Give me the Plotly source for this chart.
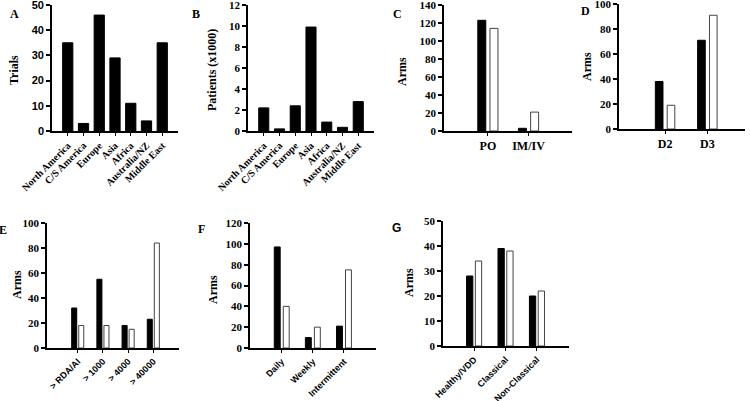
import plotly.graph_objects as go

W, H = 750, 401

# ---------------- data ----------------
regions = ["North America", "C/S America", "Europe", "Asia", "Africa", "Australia/NZ", "Middle East"]
trials = [35, 3, 46, 29, 11, 4, 35]
patients_k = [2.2, 0.2, 2.4, 9.9, 0.85, 0.35, 2.8]

route_cats = ["PO", "IM/IV"]
route_black = [123, 3]
route_white = [114, 21]

form_cats = ["D2", "D3"]
form_black = [38, 71]
form_white = [19, 91]

dose_cats = ["> RDA/AI", "> 1000", "> 4000", "> 40000"]
dose_black = [32, 55, 18, 23]
dose_white = [18, 18, 15, 84]

freq_cats = ["Daily", "Weekly", "Intermittent"]
freq_black = [97, 10, 21]
freq_white = [40, 20, 75]

pop_cats = ["Healthy/VDD", "Classical", "Non-Classical"]
pop_black = [28, 39, 20]
pop_white = [34, 38, 22]

SERIF = "Liberation Serif"
SANS = "Liberation Sans"


def px_x(x):
    return x / W


def px_y(y):
    return 1 - y / H


panels = [
    dict(letter="A", cats=regions, series=[trials], xd=(52, 178), yd=(5, 131), yr=(0, 50), dt=10,
         xr=(-1, 7), ang=-45, xf=SERIF, xs=10, yf=SANS, w=0.65, d=0, lp=(14, 14), lf=SERIF,
         title="Trials", tp=(14, 70)),
    dict(letter="B", cats=regions, series=[patients_k], xd=(248, 374), yd=(5, 131), yr=(0, 12), dt=2,
         xr=(-1, 7), ang=-45, xf=SERIF, xs=10, yf=SERIF, w=0.64, d=0, lp=(196, 14), lf=SERIF,
         title="Patients (x1000)", tp=(212, 70)),
    dict(letter="C", cats=route_cats, series=[route_black, route_white], xd=(444, 572), yd=(5, 131),
         yr=(0, 140), dt=20, xr=(-1.08, 2.07), ang=0, xf=SERIF, xs=12, yf=SERIF, w=0.197, d=0.30,
         lp=(397, 14), lf=SERIF, title="Arms", tp=(402, 72)),
    dict(letter="D", cats=form_cats, series=[form_black, form_white], xd=(619, 745), yd=(4, 129),
         yr=(0, 100), dt=20, xr=(-1.09, 1.89), ang=0, xf=SERIF, xs=12, yf=SERIF, w=0.18, d=0.28,
         lp=(585, 11), lf=SERIF, title="Arms", tp=(587, 67)),
    dict(letter="E", cats=dose_cats, series=[dose_black, dose_white], xd=(47, 179), yd=(223, 348),
         yr=(0, 100), dt=20, xr=(-1.22, 4.02), ang=-45, xf=SANS, xs=9, yf=SERIF, w=0.2, d=0.28,
         lp=(3, 230), lf=SERIF, title="Arms", tp=(17, 285)),
    dict(letter="F", cats=freq_cats, series=[freq_black, freq_white], xd=(250, 376), yd=(223, 348),
         yr=(0, 120), dt=20, xr=(-1.02, 3.03), ang=-45, xf=SANS, xs=9, yf=SERIF, w=0.19, d=0.29,
         lp=(202, 229), lf=SERIF, title="Arms", tp=(213, 289)),
    dict(letter="G", cats=pop_cats, series=[pop_black, pop_white], xd=(443, 569), yd=(221, 346),
         yr=(0, 50), dt=10, xr=(-0.99, 3.02), ang=-45, xf=SANS, xs=9, yf=SERIF, w=0.2, d=0.28,
         lp=(396, 228), lf=SANS, title="Arms", tp=(409, 283)),
]

fig = go.Figure()
layout = dict(
    width=W, height=H, margin=dict(l=0, r=0, t=0, b=0, autoexpand=False),
    paper_bgcolor="white", plot_bgcolor="white", showlegend=False,
    barmode="overlay",
)
annotations = []

for i, p in enumerate(panels):
    n = "" if i == 0 else str(i + 1)
    xa, ya = "x" + n, "y" + n
    fills = ["black", "white"]
    lines = ["black", "#444444"]
    k = len(p["series"])
    for j, vals in enumerate(p["series"]):
        if k == 1:
            off = -p["w"] / 2
        else:
            off = (-p["d"] / 2 if j == 0 else p["d"] / 2) - p["w"] / 2
        fig.add_trace(go.Bar(
            x=p["cats"], y=vals, xaxis=xa, yaxis=ya,
            width=p["w"], offset=off,
            marker=dict(color=fills[j], line=dict(color=lines[j], width=1)),
            hoverinfo="x+y",
        ))
    xd = p["xd"]
    yd = p["yd"]
    layout["xaxis" + n] = dict(
        domain=[px_x(xd[0]), px_x(xd[1])], anchor=ya, type="category",
        range=list(p["xr"]), showline=True, linecolor="black", linewidth=1.6,
        ticks="outside", ticklen=3, tickwidth=1.2, tickcolor="black",
        tickangle=p["ang"], showgrid=False, zeroline=False, automargin=False,
        tickfont=dict(family=p["xf"], size=p["xs"], color="black", weight="bold"),
    )
    layout["yaxis" + n] = dict(
        domain=[px_y(yd[1]), px_y(yd[0])], anchor=xa,
        range=list(p["yr"]), dtick=p["dt"], tick0=0,
        showline=True, linecolor="black", linewidth=1.6,
        ticks="outside", ticklen=4, tickwidth=1.5, tickcolor="black",
        showgrid=False, zeroline=False, automargin=False,
        ticklabeloverflow="allow",
        tickfont=dict(family=p["yf"], size=11, color="black", weight="bold"),
    )
    annotations.append(dict(
        text=p["letter"], x=px_x(p["lp"][0]), y=px_y(p["lp"][1]), xref="paper", yref="paper",
        xanchor="center", yanchor="middle", showarrow=False,
        font=dict(family=p["lf"], size=12, color="black", weight="bold"),
    ))
    annotations.append(dict(
        text=p["title"], x=px_x(p["tp"][0]), y=px_y(p["tp"][1]), xref="paper", yref="paper",
        xanchor="center", yanchor="middle", showarrow=False, textangle=-90,
        font=dict(family=SERIF, size=12, color="black", weight="bold"),
    ))

layout["annotations"] = annotations
fig.update_layout(**layout)
fig.write_html("out.html", config={"displayModeBar": False},
               post_script="document.body.style.margin='0';")
